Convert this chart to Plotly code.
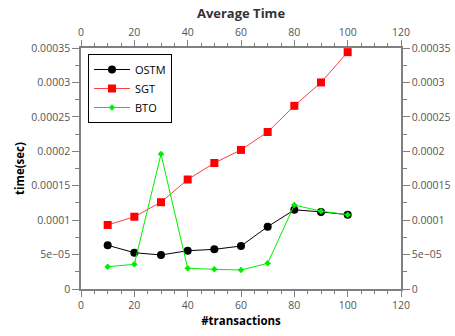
import plotly.graph_objects as go

transactions = [10, 20, 30, 40, 50, 60, 70, 80, 90, 100]
ostm = [6.35e-5, 5.27e-5, 4.94e-5, 5.56e-5, 5.76e-5, 6.24e-5, 9.05e-5, 1.15e-4, 1.12e-4, 1.08e-4]
sgt = [9.3e-5, 1.05e-4, 1.26e-4, 1.59e-4, 1.83e-4, 2.02e-4, 2.28e-4, 2.66e-4, 3.0e-4, 3.44e-4]
bto = [3.24e-5, 3.58e-5, 1.96e-4, 3.0e-5, 2.86e-5, 2.76e-5, 3.73e-5, 1.22e-4, 1.13e-4, 1.08e-4]

x_tickvals = [0, 20, 40, 60, 80, 100, 120]
y_tickvals = [0, 0.00005, 0.0001, 0.00015, 0.0002, 0.00025, 0.0003, 0.00035]
y_ticktext = ["0", "5e\u221205", "0.0001", "0.00015", "0.0002", "0.00025", "0.0003", "0.00035"]

FONT = "Open Sans"
AX = "#808080"
TICKFONT = dict(family=FONT, size=10.5, color="#555555")

fig = go.Figure()
fig.add_trace(go.Scatter(x=transactions, y=ostm, name="OSTM", mode="lines+markers",
                         line=dict(color="black", width=1),
                         marker=dict(symbol="circle", size=8, color="black")))
fig.add_trace(go.Scatter(x=transactions, y=sgt, name="SGT", mode="lines+markers",
                         line=dict(color="#ff4040", width=1),
                         marker=dict(symbol="square", size=8, color="#ff0000")))
fig.add_trace(go.Scatter(x=transactions, y=bto, name="BTO", mode="lines+markers",
                         line=dict(color="#00ee00", width=1),
                         marker=dict(symbol="diamond", size=5, color="#00ee00")))
# invisible trace to anchor the mirrored (labelled) axes
fig.add_trace(go.Scatter(x=[transactions[0]], y=[ostm[0]], xaxis="x2", yaxis="y2",
                         mode="markers", marker=dict(opacity=0), showlegend=False,
                         hoverinfo="skip"))

common_x = dict(range=[0, 120], tickvals=x_tickvals, ticks="outside", ticklen=6,
                tickcolor=AX, showline=True, linecolor=AX, linewidth=1.5,
                showgrid=False, zeroline=False, tickfont=TICKFONT, automargin=False,
                minor=dict(dtick=5, tick0=0, ticks="outside", ticklen=3, tickcolor=AX, showgrid=False))
common_y = dict(range=[0, 0.00035], tickvals=y_tickvals, ticktext=y_ticktext,
                ticks="outside", ticklen=7, tickcolor=AX, showline=True, linecolor=AX,
                linewidth=1.5, showgrid=False, zeroline=False, tickfont=TICKFONT, automargin=False,
                minor=dict(dtick=0.000025, tick0=0, ticks="outside", ticklen=4, tickcolor=AX, showgrid=False))

fig.update_layout(
    width=455, height=336,
    margin=dict(l=81, r=54, t=48, b=47, autoexpand=False),
    paper_bgcolor="white", plot_bgcolor="white",
    title=dict(text="<b>Average Time</b>", x=241 / 455, xanchor="center", y=1 - 13 / 336,
               yanchor="middle", font=dict(family=FONT, size=13, color="#333333")),
    xaxis=dict(**common_x, title=dict(text="<b>#transactions</b>", standoff=6,
                                      font=dict(family=FONT, size=11.5, color="black"))),
    yaxis=dict(**common_y, title=dict(text="<b>time(sec)</b>", standoff=4,
                                      font=dict(family=FONT, size=11.5, color="black"))),
    xaxis2=dict(**common_x, overlaying="x", side="top", anchor="y"),
    yaxis2=dict(**common_y, overlaying="y", side="right", anchor="x"),
    legend=dict(x=(88 - 81) / 320, y=1 - (54 - 48) / 241,
                xanchor="left", yanchor="top", bordercolor="black", borderwidth=1,
                bgcolor="white", font=dict(family=FONT, size=11, color="black"),
                tracegroupgap=0, itemwidth=36),
    showlegend=True,
)

fig.write_html("out.html", config={"displayModeBar": False},
               post_script="document.body.style.margin='0';")
